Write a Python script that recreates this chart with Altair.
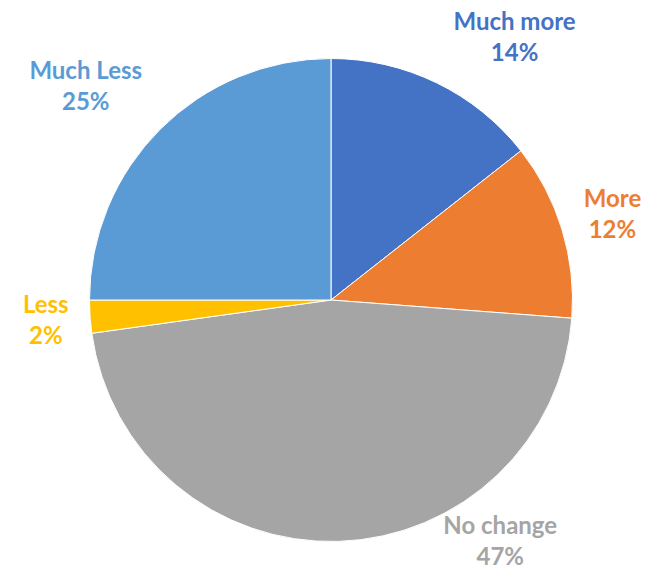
import altair as alt
import pandas as pd
import math

# ---- data ----
categories = ["Much more", "More", "No change", "Less", "Much Less"]
shares = [14.4, 11.8, 46.6, 2.2, 25.0]
pct_labels = ["14%", "12%", "47%", "2%", "25%"]
colors = ["#4472C4", "#ED7D31", "#A5A5A5", "#FFC000", "#5B9BD5"]

# ---- layout (label placement, degrees clockwise from 12 o'clock, pixels from centre) ----
LABEL_ANGLE = {"Much more": 35.0, "More": 73.2, "No change": 145.0, "Less": 265.8, "Much Less": 311.0}
LABEL_RADIUS = {"Much more": 320, "More": 294, "No change": 295, "Less": 286, "Much Less": 325}
CX, CY, R = 331, 300, 241.5

df = pd.DataFrame({
    "category": categories,
    "share": shares,
    "pct": pct_labels,
    "order": list(range(len(categories))),
})
df["label"] = df["category"] + "\n" + df["pct"]
df["lab_theta"] = [math.radians(LABEL_ANGLE[c]) for c in categories]
df["lab_r"] = [LABEL_RADIUS[c] for c in categories]

color_scale = alt.Scale(domain=categories, range=colors)

pie = alt.Chart(df).mark_arc(outerRadius=R, stroke="white", strokeWidth=1).encode(
    theta=alt.Theta("share:Q", stack=True),
    color=alt.Color("category:N", scale=color_scale, legend=None),
    order=alt.Order("order:Q"),
    x=alt.value(CX),
    y=alt.value(CY),
)

labels = alt.Chart(df).mark_text(
    font="Lato", fontWeight="bold", fontSize=24, lineBreak="\n", lineHeight=31,
    align="center", baseline="middle", dy=-15,
).encode(
    theta=alt.Theta("lab_theta:Q", scale=None),
    radius=alt.Radius("lab_r:Q", scale=None),
    text="label:N",
    color=alt.Color("category:N", scale=color_scale, legend=None),
    x=alt.value(CX),
    y=alt.value(CY),
)

chart = (pie + labels).properties(
    width=646, height=568, autosize=alt.AutoSizeParams(type="none"), padding=0,
    background="white",
).configure_view(stroke=None)

chart.save("out.html", embed_options={"renderer": "svg", "actions": False})
